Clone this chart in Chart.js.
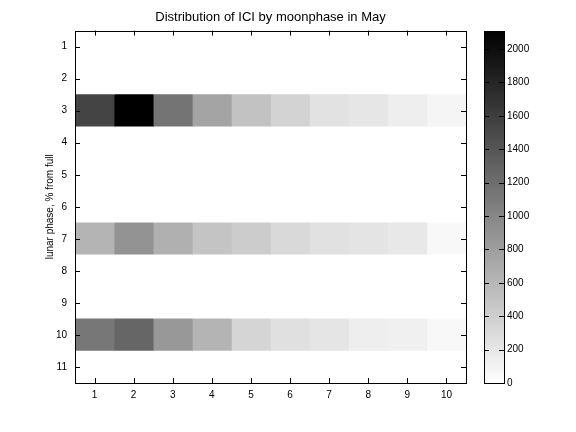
<!DOCTYPE html>
<html lang="en">
<head>
  <meta charset="UTF-8">
  <title>Distribution of ICI by moonphase in May</title>
  <style>
    body { margin: 0; background: white; }
    #wrap { position: relative; width: 576px; height: 432px; }
    #mainChart { position: absolute; left: 0; top: 0; }
    #barChart { position: absolute; left: 476px; top: 0; }
  </style>
</head>
<body>
  <div id="wrap">
    <canvas id="mainChart" width="576" height="432"></canvas>
    <canvas id="barChart" width="100" height="432"></canvas>
  </div>

  <script src="https://cdn.jsdelivr.net/npm/chart.js"></script>
  <script>
    // rows = lunar phase bins, columns = ICI bins
    const rowLabels = ['1', '2', '3', '4', '5', '6', '7', '8', '9', '10', '11'];
    const colLabels = [1, 2, 3, 4, 5, 6, 7, 8, 9, 10];
    const phase3 = [1546, 2108, 1149, 752, 504, 364, 240, 207, 140, 83];
    const phase7 = [620, 893, 653, 488, 422, 314, 248, 223, 190, 58];
    const phase10 = [1124, 1265, 851, 620, 347, 256, 215, 140, 124, 58];
    const cMax = 2108;
    const cbTicks = [0, 200, 400, 600, 800, 1000, 1200, 1400, 1600, 1800, 2000];

    const FONT = 'Helvetica, "Liberation Sans", Arial, sans-serif';

    const zeros = colLabels.map(() => 0);
    const counts = rowLabels.map((r) => {
      if (r === '3') return phase3;
      if (r === '7') return phase7;
      if (r === '10') return phase10;
      return zeros;
    });

    function gray(v) {
      const g = Math.round(255 * (1 - Math.min(v, cMax) / cMax));
      return 'rgb(' + g + ',' + g + ',' + g + ')';
    }

    // one dataset per column, floating horizontal bars make the cells
    const datasets = colLabels.map((c, ci) => ({
      data: rowLabels.map(() => [c - 0.5, c + 0.5]),
      backgroundColor: rowLabels.map((r, ri) => gray(counts[ri][ci])),
      borderWidth: 0,
      grouped: false,
      barPercentage: 1,
      categoryPercentage: 1
    }));

    // matlab style box with inward ticks
    const boxTicks = {
      id: 'boxTicks',
      afterDraw(chart) {
        const c = chart.ctx;
        const a = chart.chartArea;
        const L = 5;
        c.save();
        c.strokeStyle = '#000';
        c.lineWidth = 1;
        c.beginPath();
        for (const id of Object.keys(chart.scales)) {
          const s = chart.scales[id];
          if (!s.options.display) continue;
          s.ticks.forEach((t, i) => {
            const p = Math.round(s.getPixelForTick(i)) + 0.5;
            if (s.isHorizontal()) {
              c.moveTo(p, a.bottom); c.lineTo(p, a.bottom - L);
              c.moveTo(p, a.top); c.lineTo(p, a.top + L);
            } else {
              c.moveTo(a.left, p); c.lineTo(a.left + L, p);
              c.moveTo(a.right, p); c.lineTo(a.right - L, p);
            }
          });
        }
        c.stroke();
        c.strokeRect(Math.round(a.left) + 0.5, Math.round(a.top) + 0.5,
          Math.round(a.right - a.left), Math.round(a.bottom - a.top));
        c.restore();
      }
    };

    new Chart(document.getElementById('mainChart'), {
      type: 'bar',
      data: { labels: rowLabels, datasets: datasets },
      plugins: [boxTicks],
      options: {
        responsive: false,
        animation: false,
        indexAxis: 'y',
        layout: { padding: { left: 0, right: 110, top: 0, bottom: 0 } },
        plugins: {
          legend: { display: false },
          tooltip: { enabled: false },
          title: {
            display: true,
            text: 'Distribution of ICI by moonphase in May',
            fullSize: false,
            color: '#000',
            font: { family: FONT, size: 13, weight: 'normal' },
            padding: { top: 10, bottom: 5 }
          }
        },
        scales: {
          x: {
            type: 'linear',
            min: 0.5,
            max: 10.5,
            afterBuildTicks: (s) => { s.ticks = colLabels.map((v) => ({ value: v })); },
            afterFit: (s) => { s.height = 49; },
            grid: { display: false, drawTicks: false },
            border: { display: false },
            ticks: { color: '#000', padding: 6, maxRotation: 0, font: { family: FONT, size: 10 } }
          },
          y: {
            type: 'category',
            afterFit: (s) => { s.width = 75; },
            grid: { display: false, drawTicks: false },
            border: { display: false },
            ticks: { color: '#000', padding: 8, font: { family: FONT, size: 10 } },
            title: {
              display: true,
              text: 'lunar phase, % from full',
              color: '#000',
              font: { family: FONT, size: 10 },
              padding: { top: 44, bottom: 0 }
            }
          }
        }
      }
    });

    // colorbar
    new Chart(document.getElementById('barChart'), {
      type: 'bar',
      data: {
        labels: [''],
        datasets: [{
          data: [[0, cMax]],
          backgroundColor: (ctx) => {
            const a = ctx.chart.chartArea;
            if (!a) return '#888';
            const g = ctx.chart.ctx.createLinearGradient(0, a.bottom, 0, a.top);
            g.addColorStop(0, '#fff');
            g.addColorStop(1, '#000');
            return g;
          },
          borderWidth: 0,
          barPercentage: 1,
          categoryPercentage: 1
        }]
      },
      plugins: [boxTicks],
      options: {
        responsive: false,
        animation: false,
        layout: { padding: { left: 8, right: 0, top: 31, bottom: 49 } },
        plugins: { legend: { display: false }, tooltip: { enabled: false }, title: { display: false } },
        scales: {
          x: { display: false },
          y: {
            position: 'right',
            min: 0,
            max: cMax,
            afterBuildTicks: (s) => { s.ticks = cbTicks.map((v) => ({ value: v })); },
            afterFit: (s) => { s.width = 72; },
            grid: { display: false, drawTicks: false },
            border: { display: false },
            ticks: { color: '#000', padding: 3, font: { family: FONT, size: 10 }, callback: (v) => String(v) }
          }
        }
      }
    });
  </script>
</body>
</html>
